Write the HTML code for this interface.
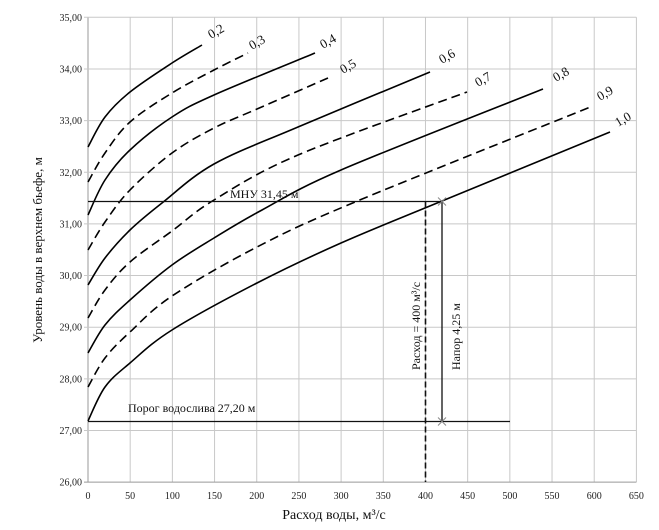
<!DOCTYPE html>
<html><head><meta charset="utf-8"><style>
html,body{margin:0;padding:0;background:#fff;}
svg{display:block;font-family:"Liberation Serif",serif;}
</style></head><body>
<svg id="s" width="659" height="530" viewBox="0 0 659 530" xmlns="http://www.w3.org/2000/svg">
<g id="grid" stroke="#c8c8c8" stroke-width="1"></g>
<g id="ticks" font-size="10" fill="#222"></g>
<g id="curves" fill="none" stroke="#000" stroke-width="1.6"></g>
<g stroke="#111" stroke-width="1.3" fill="none">
<line x1="88" y1="201.5" x2="442" y2="201.5"/>
<line x1="88" y1="421.5" x2="510" y2="421.5"/>
<line x1="442" y1="201.5" x2="442" y2="421.5"/>
<line x1="425.5" y1="201.5" x2="425.5" y2="482" stroke-dasharray="6,3" stroke-width="1.6"/>
</g>
<g stroke="#888" stroke-width="1">
<line x1="438" y1="197.5" x2="446" y2="205.5"/><line x1="446" y1="197.5" x2="438" y2="205.5"/>
<line x1="438" y1="417.5" x2="446" y2="425.5"/><line x1="446" y1="417.5" x2="438" y2="425.5"/>
</g>
<g font-size="12" fill="#111">
<text x="230" y="198">МНУ 31,45 м</text>
<text x="128" y="412">Порог водослива  27,20 м</text>
<text transform="translate(420,370) rotate(-90)">Расход = 400 м³/с</text>
<text transform="translate(460,370) rotate(-90)">Напор  4,25 м</text>
</g>
<g font-size="13" fill="#111" id="labels"></g>
<text x="334" y="519" font-size="14" text-anchor="middle" fill="#111">Расход воды, м³/с</text>
<text transform="translate(42,250) rotate(-90)" font-size="13" text-anchor="middle" fill="#111">Уровень воды в верхнем бьефе, м</text>
</svg>
<script>
var NS="http://www.w3.org/2000/svg";
function el(p,t,a,txt){var e=document.createElementNS(NS,t);for(var k in a)e.setAttribute(k,a[k]);if(txt!==undefined)e.textContent=txt;document.getElementById(p).appendChild(e);return e;}
var x0=88,px=0.8437,y35=17.3,py=51.65;
for(var q=0;q<=650;q+=50){var x=x0+q*px;el("grid","line",{x1:x,y1:y35,x2:x,y2:y35+9*py,stroke:q==0?"#999":"#c8c8c8"});
el("ticks","text",{x:x,y:499,"text-anchor":"middle"},q);}
for(var v=26;v<=35;v++){var y=y35+(35-v)*py;el("grid","line",{x1:x0-4,y1:y,x2:x0+650*px,y2:y,stroke:v==26?"#999":"#c8c8c8"});
el("ticks","text",{x:82,y:y+3.5,"text-anchor":"end"},v+",00");}
var C=[
[[88,147],[105,117],[130,92],[172,63],[202,45]],
[[88,182],[105,153],[130,122],[172,93],[214,70],[248,53]],
[[88,215],[105,180],[130,150],[172,117],[214,95],[315,53]],
[[88,250],[105,222],[130,190],[172,153],[214,128],[257,109],[328,78]],
[[88,285],[105,258],[130,230],[162,203],[214,164],[298,127],[430,72]],
[[88,318],[105,290],[130,262],[172,231],[214,200],[298,155],[467,92]],
[[88,353],[105,325],[130,300],[172,265],[214,238],[262,210],[341,170],[543,89]],
[[88,387],[105,358],[130,332],[172,296],[257,247],[355,202],[593,106]],
[[88,421],[105,387],[130,363],[172,330],[257,283],[341,243],[442,201],[610,132]]];
function path(p){var d="M"+p[0][0]+","+p[0][1];for(var i=0;i<p.length-1;i++){var a=p[i-1]||p[i],b=p[i],c=p[i+1],e=p[i+2]||c;
d+=" C"+(b[0]+(c[0]-a[0])/6)+","+(b[1]+(c[1]-a[1])/6)+" "+(c[0]-(e[0]-b[0])/6)+","+(c[1]-(e[1]-b[1])/6)+" "+c[0]+","+c[1];}return d;}
C.forEach(function(p,i){var a={d:path(p)};if(i%2==1)a["stroke-dasharray"]="9,5";el("curves","path",a);});
var L=[["0,2",211,39],["0,3",252,50],["0,4",323,49],["0,5",343,74],["0,6",442,64],["0,7",478,87],["0,8",556,82],["0,9",600,101],["1,0",618,127]];
L.forEach(function(l){el("labels","text",{transform:"translate("+l[1]+","+l[2]+") rotate(-30)"},l[0]);});
</script>
</body></html>
